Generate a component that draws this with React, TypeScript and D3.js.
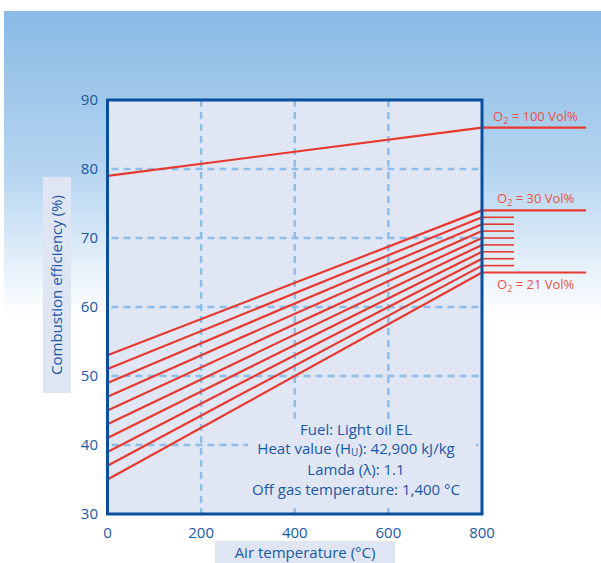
import React from "react";
import * as d3 from "d3";

// air temperature endpoints (°C)
const airTemp = [0, 800];
// oxygen content of combustion air (Vol%)
const o2Levels = [100, 30, 29, 28, 27, 26, 25, 24, 23, 22, 21];
// combustion efficiency (%) at 0 °C and at 800 °C
const effAt0 = [79, 53, 51, 49, 47, 45, 43, 41, 39, 37, 35];
const effAt800 = [86, 74, 73, 72, 71, 70, 69, 68, 67, 66, 65];
const labelled = [100, 30, 21];

const xTicks = [0, 200, 400, 600, 800];
const yTicks = [30, 40, 50, 60, 70, 80, 90];
const gridX = [200, 400, 600];
const gridY = [40, 50, 60, 70, 80];

const notes = ["Fuel: Light oil EL", "Heat value (H", "Lamda (\u03bb): 1.1", "Off gas temperature: 1,400 \u00b0C"];

const W = 601, H = 563;
const blue = "#1a58a6";
const red = "#e8392f";
const font = "'Open Sans', 'Noto Sans', sans-serif";

export default function App() {
  const x = d3.scaleLinear().domain([0, 800]).range([107.5, 482]);
  const y = d3.scaleLinear().domain([30, 90]).range([514, 100]);
  const line = d3.line<number[]>().x(d => x(d[0])).y(d => y(d[1]));

  return (
    <svg width={W} height={H} style={{ position: "absolute", left: 0, top: 0 }} fontFamily={font}>
      <defs>
        <linearGradient id="bg" x1="0" y1="0" x2="0" y2="1">
          <stop offset="0" stopColor="#88bae5" />
          <stop offset="0.45" stopColor="#b6d5f0" />
          <stop offset="0.85" stopColor="#ffffff" />
          <stop offset="1" stopColor="#ffffff" />
        </linearGradient>
      </defs>
      <rect x={4} y={11} width={W - 4} height={360} fill="url(#bg)" />

      {/* plot area */}
      <rect x={x(0)} y={y(90)} width={x(800) - x(0)} height={y(30) - y(90)} fill="#e0e6f4" />
      <g stroke="#8dbde8" strokeWidth={2.5} strokeDasharray="7,5">
        {gridX.map(v => (
          <line key={"gx" + v} x1={x(v)} x2={x(v)} y1={y(90)} y2={y(30)} />
        ))}
        {gridY.map(v => (
          <line key={"gy" + v} x1={x(0) + 4} x2={x(800)} y1={y(v)} y2={y(v)} />
        ))}
      </g>
      {/* annotation panel */}
      <rect x={248} y={419} width={228} height={84} fill="#e0e6f4" />

      {/* efficiency lines */}
      <g fill="none" stroke={red} strokeWidth={2.2}>
        {o2Levels.map((o, i) => (
          <path key={"l" + o} d={line([[airTemp[0], effAt0[i]], [airTemp[1], effAt800[i]]]) || ""} />
        ))}
        {o2Levels.map((o, i) => (
          <line key={"e" + o} x1={x(800)} x2={labelled.includes(o) ? x(800) + 104 : x(800) + 32}
            y1={y(effAt800[i])} y2={y(effAt800[i])}
            strokeWidth={labelled.includes(o) ? 2.2 : 1.6} />
        ))}
      </g>

      <rect x={x(0)} y={y(90)} width={x(800) - x(0)} height={y(30) - y(90)} fill="none" stroke="#0a4f9e" strokeWidth={3} />

      {/* O2 labels */}
      <g fill="#ea5248" fontSize={13}>
        {labelled.map(o => {
          const i = o2Levels.indexOf(o);
          const yy = y(effAt800[i]) + (o === 21 ? 16 : -7);
          return (
            <text key={"t" + o} x={o === 100 ? 493 : 497} y={yy}>
              O<tspan fontSize={9} dy={3}>2</tspan><tspan dy={-3}>{" = " + o + " Vol%"}</tspan>
            </text>
          );
        })}
      </g>

      {/* ticks */}
      <g fill={blue} fontSize={15}>
        {yTicks.map(v => (
          <text key={"yt" + v} x={98} y={y(v) + 5} textAnchor="end">{v}</text>
        ))}
        {xTicks.map(v => (
          <text key={"xt" + v} x={x(v)} y={538} textAnchor="middle">{v}</text>
        ))}
      </g>

      {/* notes */}
      <g fill={blue} fontSize={15} textAnchor="middle">
        <text x={356} y={435}>{notes[0]}</text>
        <text x={356} y={454}>{notes[1]}<tspan fontSize={10} dy={2}>U</tspan><tspan dy={-2}>): 42,900 kJ/kg</tspan></text>
        <text x={356} y={475}>{notes[2]}</text>
        <text x={356} y={495}>{notes[3]}</text>
      </g>

      {/* axis titles */}
      <rect x={215} y={541} width={180} height={22} fill="#dfe5f3" />
      <text x={305} y={558} textAnchor="middle" fill={blue} fontSize={15}>Air temperature (°C)</text>
      <rect x={43} y={177} width={28} height={216} fill="#dfe5f3" />
      <text transform="translate(62,285) rotate(-90)" textAnchor="middle" fill={blue} fontSize={15}>Combustion efficiency (%)</text>
    </svg>
  );
}
